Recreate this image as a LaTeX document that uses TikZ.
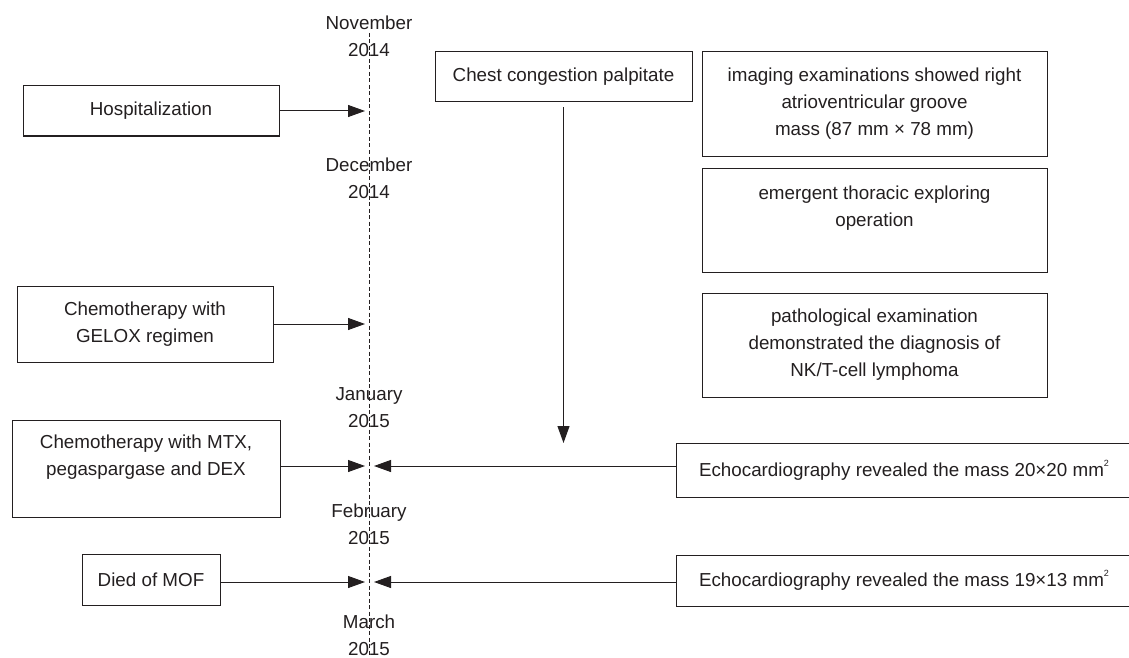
\documentclass[tikz,border=0pt]{standalone}
\usepackage{fontspec}
\setmainfont{Liberation Sans}
\usetikzlibrary{arrows.meta}
\definecolor{ink}{RGB}{35,31,32}
\tikzset{
  every node/.style={font=\fontsize{18.8}{27}\selectfont, text=ink},
  box/.style={draw=ink, line width=1pt, inner sep=0pt, align=center},
  conn/.style={draw=ink, line width=1pt, -{Triangle[length=17pt,width=12pt]}},
  timeline/.style={draw=ink, line width=1pt, dash pattern=on 4pt off 2.5pt},
  datelabel/.style={align=center, inner sep=0pt}
}
\begin{document}
\begin{tikzpicture}[x=1pt,y=-1pt]
\useasboundingbox (0,0) rectangle (1129,658);

% date labels
\node[datelabel] (nov) at (369,36.5) {November\\2014};
\node[datelabel] (dec) at (369,178.5) {December\\2014};
\node[datelabel] (jan) at (369,408) {January\\2015};
\node[datelabel] (feb) at (369,524.5) {February\\2015};
\node[datelabel] (mar) at (369,635) {March\\2015};

% timeline
\coordinate (ttop) at (369,33);
\coordinate (tbot) at (369,655);
\draw[timeline] (ttop) -- (tbot);

% left boxes
\node[box, minimum width=256pt, minimum height=50pt] (hosp) at (151,111) {Hospitalization};
\node[box, minimum width=256pt, minimum height=76pt] (gelox) at (145,324) {Chemotherapy with\\GELOX regimen};
\node[box, minimum width=268pt, minimum height=97pt] (mtx) at (146,468.5) {Chemotherapy with MTX,\\pegaspargase and DEX\\\mbox{}};
\node[box, minimum width=138pt, minimum height=51pt] (mof) at (151,579.5) {Died of MOF};

% top middle
\node[box, minimum width=257pt, minimum height=50pt] (chest) at (563.5,77) {Chest congestion palpitate};

% right boxes
\node[box, minimum width=345pt, minimum height=104pt] (imaging) at (874.5,104) {imaging examinations showed right\\atrioventricular groove\\mass (87 mm × 78 mm)};
\node[box, minimum width=345pt, minimum height=104pt] (emerg) at (874.5,220) {emergent thoracic exploring\\operation\\\mbox{}};
\node[box, minimum width=345pt, minimum height=104pt] (patho) at (874.5,345) {pathological examination\\demonstrated the diagnosis of\\NK/T-cell lymphoma};

% echo boxes
\node[box, minimum width=456pt, minimum height=54pt] (echoa) at (904,470) {Echocardiography revealed the mass 20×20 mm\raisebox{0.55em}{\fontsize{9}{9}\selectfont 2}};
\node[box, minimum width=456pt, minimum height=51pt] (echob) at (904,580.5) {Echocardiography revealed the mass 19×13 mm\raisebox{0.55em}{\fontsize{9}{9}\selectfont 2}};

% arrow targets on timeline
\coordinate (l1) at (365,111);
\coordinate (l2) at (365,324);
\coordinate (l3) at (365,466);
\coordinate (r3) at (374,466);
\coordinate (l4) at (365,582);
\coordinate (r4) at (374,582);
\coordinate (dtip) at (563.5,443);

% connectors
\draw[conn] (hosp.east) -- (l1);
\draw[conn] (gelox.east) -- (l2);
\draw[conn] (mtx.east |- l3) -- (l3);
\draw[conn] (mof.east |- l4) -- (l4);
\draw[conn] (echoa.west |- r3) -- (r3);
\draw[conn] (echob.west |- r4) -- (r4);
\draw[conn, shorten <=5pt] (chest.south) -- (dtip);
\end{tikzpicture}
\end{document}
